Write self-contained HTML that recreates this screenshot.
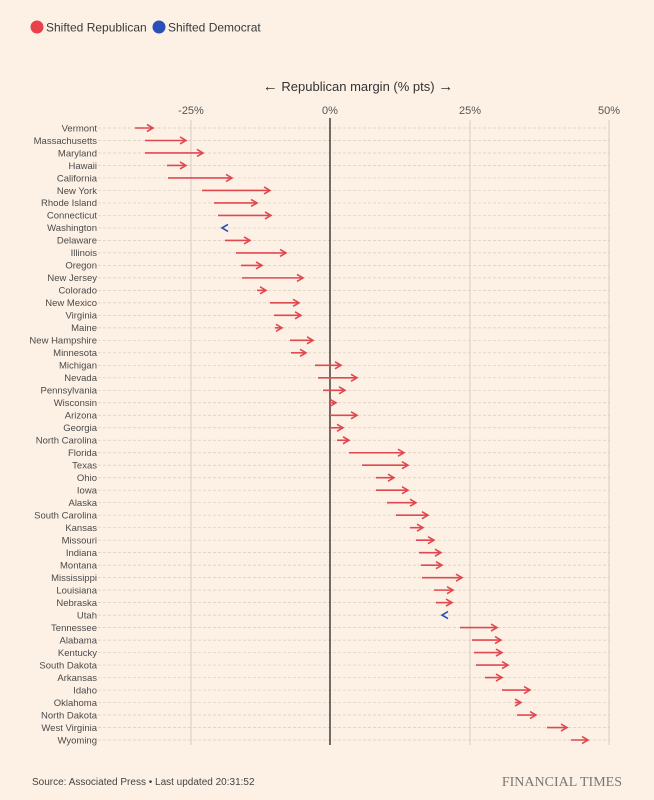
<!DOCTYPE html>
<html><head><meta charset="utf-8"><style>
html,body{margin:0;padding:0;background:#fdf1e5;}
svg{display:block;font-family:"Liberation Sans",sans-serif;}
</style></head><body>
<svg width="654" height="800" viewBox="0 0 654 800">
<rect width="654" height="800" fill="#fdf1e5"/>
<defs>
<marker id="ar" markerWidth="10" markerHeight="10" refX="7" refY="5" orient="auto" markerUnits="userSpaceOnUse"><path d="M1,1.5 L7,5 L1,8.5" fill="none" stroke="#e04850" stroke-width="1.6"/></marker>
<marker id="ab" markerWidth="10" markerHeight="10" refX="7" refY="5" orient="auto" markerUnits="userSpaceOnUse"><path d="M1,1.5 L7,5 L1,8.5" fill="none" stroke="#2a4fb8" stroke-width="1.6"/></marker>
</defs>
<circle cx="37" cy="27" r="6.5" fill="#e8414b"/>
<text x="46" y="31.5" font-size="12" fill="#3a3a3a">Shifted Republican</text>
<circle cx="159" cy="27" r="6.5" fill="#2a4fb8"/>
<text x="168" y="31.5" font-size="12" fill="#3a3a3a">Shifted Democrat</text>
<text x="358" y="91" font-size="13" fill="#333" text-anchor="middle"><tspan font-weight="bold" font-size="15">←</tspan> Republican margin (% pts) <tspan font-weight="bold" font-size="15">→</tspan></text>
<g font-size="11" fill="#555" text-anchor="middle">
<text x="191" y="114">-25%</text><text x="330" y="114">0%</text><text x="470" y="114">25%</text><text x="609" y="114">50%</text>
</g>
<g stroke="#cfc4b8" stroke-width="0.8">
<line x1="191" y1="120" x2="191" y2="745"/><line x1="470" y1="120" x2="470" y2="745"/><line x1="609" y1="120" x2="609" y2="745"/>
</g>
<g id="rows" font-size="9.5" fill="#4a4a4a" text-anchor="end"></g>
<line x1="330" y1="118" x2="330" y2="745" stroke="#333" stroke-width="1.4"/>
<g id="arrows" stroke-width="1.6" fill="none"></g>
<text x="32" y="785" font-size="10" fill="#444">Source: Associated Press • Last updated 20:31:52</text>
<text x="622" y="786" font-size="14" fill="#777" text-anchor="end" font-family="Liberation Serif,serif">FINANCIAL TIMES</text>
</svg>
<script>
var d=[["Vermont",135,153],["Massachusetts",145,186],["Maryland",145,203],["Hawaii",167,186],["California",168,232],["New York",202,270],["Rhode Island",214,257],["Connecticut",218,271],["Washington",228,222],["Delaware",225,250],["Illinois",236,286],["Oregon",241,262],["New Jersey",242,303],["Colorado",257,266],["New Mexico",270,299],["Virginia",274,301],["Maine",275,282],["New Hampshire",290,313],["Minnesota",291,306],["Michigan",315,341],["Nevada",318,357],["Pennsylvania",323,345],["Wisconsin",329,336],["Arizona",330,357],["Georgia",330,343],["North Carolina",337,349],["Florida",349,404],["Texas",362,408],["Ohio",376,394],["Iowa",376,408],["Alaska",387,416],["South Carolina",396,428],["Kansas",410,423],["Missouri",416,434],["Indiana",419,441],["Montana",421,442],["Mississippi",422,462],["Louisiana",434,453],["Nebraska",436,452],["Utah",447,442],["Tennessee",460,497],["Alabama",472,501],["Kentucky",474,502],["South Dakota",476,508],["Arkansas",485,502],["Idaho",502,530],["Oklahoma",515,521],["North Dakota",517,536],["West Virginia",547,567],["Wyoming",571,588]];
var ns="http://www.w3.org/2000/svg",R=document.getElementById("rows"),A=document.getElementById("arrows");
d.forEach(function(r,i){var y=128+i*12.49;
var l=document.createElementNS(ns,"line");l.setAttribute("x1",98);l.setAttribute("x2",610);l.setAttribute("y1",y);l.setAttribute("y2",y);l.setAttribute("stroke","#d8ccbf");l.setAttribute("stroke-width","0.7");l.setAttribute("stroke-dasharray","3,2");R.appendChild(l);
var t=document.createElementNS(ns,"text");t.setAttribute("x",97);t.setAttribute("y",y+3.3);t.textContent=r[0];R.appendChild(t);
var blue=r[2]<r[1];var a=document.createElementNS(ns,"line");a.setAttribute("x1",r[1]);a.setAttribute("x2",r[2]);a.setAttribute("y1",y);a.setAttribute("y2",y);
a.setAttribute("stroke",blue?"#2a4fb8":"#e04850");if(blue)a.setAttribute("stroke-opacity","0");a.setAttribute("marker-end",blue?"url(#ab)":"url(#ar)");A.appendChild(a);});
</script>
</body></html>
